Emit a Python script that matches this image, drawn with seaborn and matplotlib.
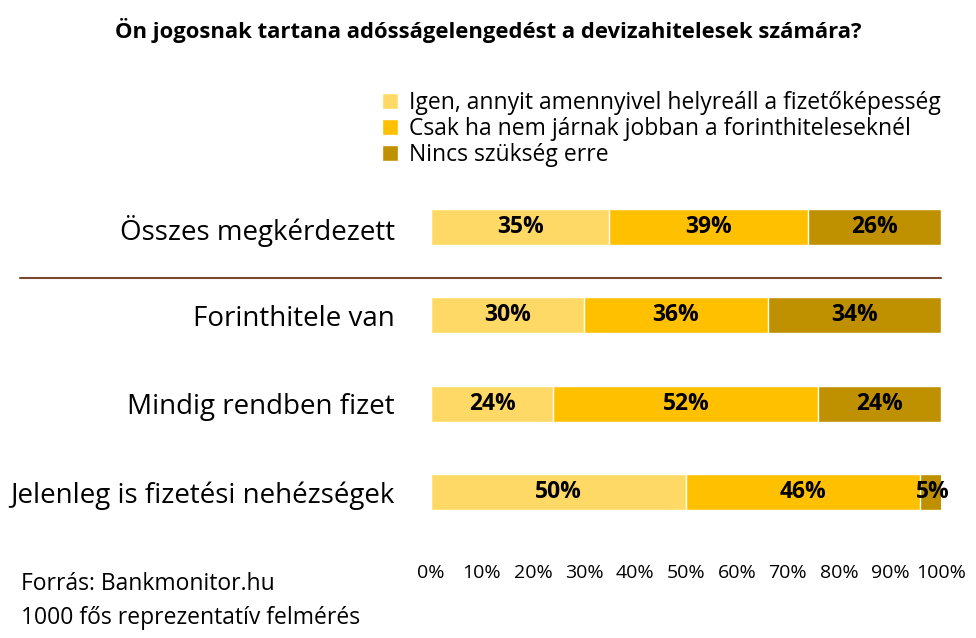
import numpy as np
import pandas as pd
import matplotlib
matplotlib.use("Agg")
import matplotlib.pyplot as plt
import seaborn as sns
from matplotlib.patches import Patch

categories = ["Összes megkérdezett", "Forinthitele van", "Mindig rendben fizet",
              "Jelenleg is fizetési nehézségek"]
igen = [35, 30, 24, 50]
csak = [39, 36, 52, 46]
nincs = [26, 34, 24, 5]
series_names = ["Igen, annyit amennyivel helyreáll a fizetőképesség",
                "Csak ha nem járnak jobban a forinthiteleseknél",
                "Nincs szükség erre"]
colors = ["#FFD966", "#FFC000", "#BF9000"]

sns.set_theme(style="white")
plt.rcParams['font.family'] = ['Open Sans', 'DejaVu Sans']
plt.rcParams['text.color'] = 'black'
plt.rcParams['xtick.color'] = 'black'
plt.rcParams['ytick.color'] = 'black'

df = pd.DataFrame({"cat": categories, "igen": igen, "csak": csak, "nincs": nincs})
df["c1"] = df["igen"]
df["c2"] = df["igen"] + df["csak"]
df["c3"] = df["c2"] + df["nincs"]

fig = plt.figure(figsize=(9.76, 6.38), dpi=100)
ax = fig.add_axes([0.4416, 0.146, 0.5224, 0.581])

for col, c in zip(["c3", "c2", "c1"], colors[::-1]):
    sns.barplot(data=df, x=col, y="cat", color=c, width=0.41, ax=ax,
                saturation=1, orient="h")

for i in range(len(categories)):
    starts = [0, df["c1"][i], df["c2"][i]]
    vals = [igen[i], csak[i], nincs[i]]
    for s, v in zip(starts, vals):
        ax.text(s + v / 2, i, f"{v}%", ha="center", va="center",
                fontsize=16.5, fontweight="bold", color="black")

ax.set_xlim(0, 100)
ax.set_ylim(3.6, -0.6)
ax.set_xticks(range(0, 101, 10))
ax.set_xticklabels([f"{t}%" for t in range(0, 101, 10)], fontsize=14)
ax.tick_params(axis="y", labelsize=20, pad=20)
ax.tick_params(axis="x", pad=8)
ax.set_xlabel("")
ax.set_ylabel("")
for s in ax.spines.values():
    s.set_visible(False)

fig.add_artist(plt.Line2D([0.02, 0.964], [1 - 278 / 638] * 2, color="#7B4A2E", lw=1.5))

fig.text(0.5, 0.952, "Ön jogosnak tartana adósságelengedést a devizahitelesek számára?",
         ha="center", va="center", fontsize=15.8, fontweight="bold")
handles = [Patch(facecolor=c, label=n) for c, n in zip(colors, series_names)]
fig.legend(handles=handles, loc="upper left", bbox_to_anchor=(0.37, 0.89),
           frameon=False, fontsize=16.5, handlelength=0.7, handleheight=0.7,
           handletextpad=0.5, labelspacing=0.1)

fig.text(0.022, 0.085, "Forrás: Bankmonitor.hu", fontsize=16.5, va="center")
fig.text(0.022, 0.032, "1000 fős reprezentatív felmérés", fontsize=16.5, va="center")

fig.savefig("out.png", dpi=100)
